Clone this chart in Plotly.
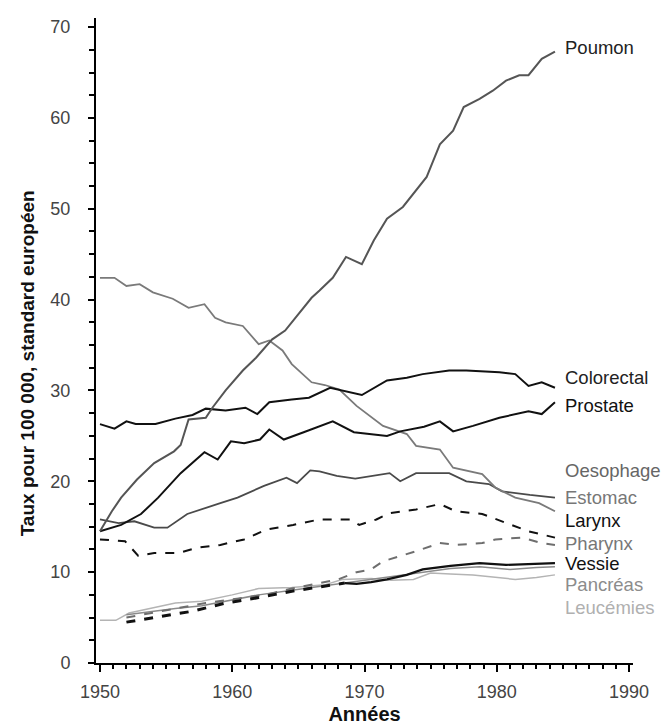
import plotly.graph_objects as go

# values (year, rate per 100 000)
poumon_x = [1950.0, 1950.9, 1951.6, 1952.8, 1954.1, 1955.0, 1955.6, 1956.1, 1956.7, 1958.0, 1958.5, 1959.5,
            1960.8, 1961.8, 1962.5, 1963.0, 1964.0, 1965.0, 1966.0, 1966.6, 1967.6, 1968.6, 1969.8, 1970.7,
            1971.7, 1972.9, 1973.9, 1974.7, 1975.2, 1975.7, 1976.7, 1977.5, 1978.7, 1979.7, 1980.7, 1981.7,
            1982.4, 1983.4, 1984.4]
poumon_y = [14.5, 16.7, 18.2, 20.2, 22.0, 22.8, 23.3, 24.0, 26.8, 27.0, 28.1, 30.0,
            32.2, 33.6, 34.7, 35.6, 36.6, 38.4, 40.2, 41.0, 42.4, 44.7, 43.9, 46.5,
            48.9, 50.2, 52.0, 53.5, 55.3, 57.1, 58.6, 61.2, 62.1, 63.0, 64.1, 64.7,
            64.7, 66.5, 67.3]

estomac_x = [1950.0, 1951.1, 1952.0, 1953.0, 1954.0, 1955.5, 1956.7, 1957.9, 1958.7, 1959.5, 1960.8, 1962.0,
             1962.8, 1963.8, 1964.5, 1966.0, 1967.0, 1968.1, 1969.4, 1971.4, 1973.2, 1973.9, 1975.7, 1976.7,
             1978.9, 1979.9, 1981.4, 1983.2, 1984.4]
estomac_y = [42.4, 42.4, 41.5, 41.7, 40.8, 40.1, 39.1, 39.5, 38.0, 37.5, 37.1, 35.1,
             35.5, 34.4, 32.9, 30.9, 30.6, 30.1, 28.3, 26.1, 25.2, 23.9, 23.5, 21.5,
             20.8, 19.3, 18.2, 17.6, 16.7]

colorectal_x = [1950.0, 1951.1, 1952.0, 1952.7, 1954.2, 1955.7, 1957.0, 1958.0, 1959.5, 1961.0, 1961.9, 1962.8,
                1964.5, 1965.8, 1967.4, 1968.9, 1969.8, 1971.7, 1973.2, 1974.4, 1976.4, 1977.7, 1980.2, 1981.4,
                1982.4, 1983.4, 1984.4]
colorectal_y = [26.3, 25.8, 26.6, 26.3, 26.3, 26.9, 27.3, 28.0, 27.8, 28.1, 27.4, 28.7,
                29.0, 29.2, 30.3, 29.8, 29.5, 31.1, 31.4, 31.8, 32.2, 32.2, 32.0, 31.8,
                30.5, 30.9, 30.3]

prostate_x = [1950.0, 1951.6, 1953.1, 1954.4, 1956.1, 1957.9, 1958.9, 1959.9, 1960.9, 1962.1, 1962.8, 1963.9,
              1965.4, 1967.6, 1969.2, 1971.7, 1972.7, 1974.5, 1975.7, 1976.7, 1978.2, 1980.2, 1982.4, 1983.4,
              1984.4]
prostate_y = [14.5, 15.2, 16.4, 18.2, 20.9, 23.2, 22.4, 24.4, 24.2, 24.6, 25.7, 24.6,
              25.4, 26.6, 25.4, 25.0, 25.5, 26.0, 26.6, 25.5, 26.1, 27.0, 27.7, 27.4,
              28.7]

oesophage_x = [1950.0, 1951.4, 1952.6, 1954.1, 1955.1, 1956.6, 1959.1, 1960.4, 1962.4, 1964.1, 1964.9, 1965.9,
               1966.6, 1967.9, 1969.3, 1971.9, 1972.7, 1973.9, 1976.4, 1977.7, 1979.4, 1980.4, 1982.5, 1984.4]
oesophage_y = [15.8, 15.4, 15.6, 14.9, 14.9, 16.4, 17.6, 18.2, 19.5, 20.4, 19.8, 21.2,
               21.1, 20.6, 20.3, 20.9, 20.0, 20.9, 20.9, 20.0, 19.7, 18.9, 18.5, 18.2]

larynx_x = [1950.0, 1951.9, 1952.9, 1954.1, 1955.9, 1957.4, 1959.1, 1960.9, 1962.6, 1964.6, 1966.6, 1968.9,
            1969.6, 1970.9, 1971.9, 1973.9, 1975.7, 1976.9, 1978.9, 1980.7, 1982.4, 1984.4]
larynx_y = [13.6, 13.4, 11.8, 12.1, 12.1, 12.7, 13.0, 13.6, 14.7, 15.2, 15.8, 15.8,
            15.2, 15.8, 16.5, 16.9, 17.5, 16.7, 16.4, 15.4, 14.5, 13.8]

pharynx_x = [1952.0, 1955.0, 1958.0, 1960.5, 1962.8, 1964.5, 1968.0, 1969.4, 1970.5, 1971.4, 1973.9, 1975.7,
             1976.9, 1978.9, 1979.9, 1981.9, 1983.4, 1984.4]
pharynx_y = [5.0, 5.8, 6.6, 7.1, 7.6, 8.2, 9.2, 10.0, 10.3, 11.2, 12.3, 13.2,
             13.0, 13.2, 13.6, 13.8, 13.2, 13.0]

vessie_x = [1952.0, 1954.5, 1957.0, 1959.5, 1962.0, 1964.5, 1967.0, 1968.5, 1969.4, 1970.5, 1971.7, 1973.2,
            1974.4, 1976.5, 1978.7, 1980.7, 1982.5, 1984.4]
vessie_y = [4.5, 5.1, 5.7, 6.6, 7.2, 7.9, 8.5, 8.8, 8.7, 8.9, 9.2, 9.7,
            10.3, 10.7, 11.0, 10.8, 10.9, 11.0]
vessie_dash_until = 1968.5

pancreas_x = [1952.0, 1953.5, 1955.7, 1957.7, 1960.0, 1962.0, 1964.5, 1967.0, 1969.4, 1972.0, 1974.4, 1976.5,
              1978.7, 1981.0, 1983.0, 1984.4]
pancreas_y = [5.3, 5.6, 6.0, 6.3, 6.9, 7.5, 8.0, 8.5, 9.0, 9.5, 10.0, 10.4,
              10.6, 10.3, 10.5, 10.6]

leucemies_x = [1950.0, 1951.2, 1952.2, 1955.7, 1957.7, 1960.0, 1962.0, 1964.5, 1967.0, 1968.3, 1970.5, 1972.0,
               1973.7, 1975.0, 1976.5, 1978.2, 1981.4, 1983.0, 1984.4]
leucemies_y = [4.7, 4.7, 5.5, 6.6, 6.8, 7.5, 8.2, 8.3, 8.6, 9.2, 9.3, 9.1,
               9.2, 9.9, 9.8, 9.7, 9.2, 9.4, 9.7]

FONT = "Liberation Sans, Arial, sans-serif"

fig = go.Figure()


def add_line(x, y, color, width=2, dash="solid"):
    fig.add_trace(go.Scatter(x=x, y=y, mode="lines", line=dict(color=color, width=width, dash=dash),
                             showlegend=False, hoverinfo="skip"))


add_line(leucemies_x, leucemies_y, "#b4b4b4", 1.5)
add_line(pancreas_x, pancreas_y, "#8a8a8a", 1.5)
add_line(pharynx_x, pharynx_y, "#6e6e6e", 2, "dash")
add_line(larynx_x, larynx_y, "#111111", 2, "dash")

# vessie: dashed at the start, solid afterwards
vx1 = [x for x in vessie_x if x <= vessie_dash_until]
vy1 = vessie_y[:len(vx1)]
vx2 = [x for x in vessie_x if x >= vessie_dash_until]
vy2 = vessie_y[len(vessie_x) - len(vx2):]
add_line(vx1, vy1, "#111111", 3, "dash")
add_line(vx2, vy2, "#111111", 2.2)

add_line(oesophage_x, oesophage_y, "#4a4a4a", 1.8)
add_line(estomac_x, estomac_y, "#7a7a7a", 1.8)
add_line(prostate_x, prostate_y, "#111111", 2)
add_line(colorectal_x, colorectal_y, "#111111", 2)
add_line(poumon_x, poumon_y, "#555555", 2)

# end labels (text, y position, colour)
labels = [
    ("Poumon", 67.8, "#222222"),
    ("Colorectal", 31.4, "#222222"),
    ("Prostate", 28.3, "#111111"),
    ("Oesophage", 21.2, "#666666"),
    ("Estomac", 18.2, "#777777"),
    ("Larynx", 15.7, "#111111"),
    ("Pharynx", 13.2, "#777777"),
    ("Vessie", 11.0, "#111111"),
    ("Pancréas", 8.6, "#8c8c8c"),
    ("Leucémies", 6.1, "#b0b0b0"),
]
for text, yv, col in labels:
    fig.add_annotation(x=1985.0, y=yv, xref="x", yref="y", text=text, showarrow=False,
                       xanchor="left", yanchor="middle", font=dict(family=FONT, size=18.5, color=col))

# y title placed as rotated text, slightly below the plot centre like the original
fig.add_annotation(x=-0.128, y=0.465, xref="paper", yref="paper", showarrow=False,
                   text="<b>Taux pour 100 000, standard européen</b>", textangle=-90,
                   xanchor="center", yanchor="middle", font=dict(family=FONT, size=19, color="#111111"))

fig.update_layout(
    width=670, height=725,
    margin=dict(l=88, r=45, t=10, b=70),
    plot_bgcolor="white", paper_bgcolor="white",
    font=dict(family=FONT, size=18, color="#444444"),
    xaxis=dict(
        range=[1949.7, 1990.3], tickvals=[1950, 1960, 1970, 1980, 1990],
        showline=True, linecolor="black", linewidth=2, showgrid=False, zeroline=False,
        ticks="outside", ticklen=7, tickwidth=1.5, tickcolor="black", ticklabelstandoff=4,
        minor=dict(tick0=1950, dtick=1, ticks="outside", ticklen=4, tickwidth=1.5, tickcolor="black"),
        title=dict(text="<b>Années</b>", font=dict(size=20, color="#111111"), standoff=6),
    ),
    yaxis=dict(
        range=[0, 71], tickvals=[0, 10, 20, 30, 40, 50, 60, 70],
        showline=True, linecolor="black", linewidth=2, showgrid=False, zeroline=False,
        ticks="outside", ticklen=6, tickwidth=1.5, tickcolor="black", ticklabelstandoff=14,
        minor=dict(tick0=0, dtick=2.5, ticks="outside", ticklen=5, tickwidth=1.5, tickcolor="black"),
    ),
)

fig.write_html("out.html")
